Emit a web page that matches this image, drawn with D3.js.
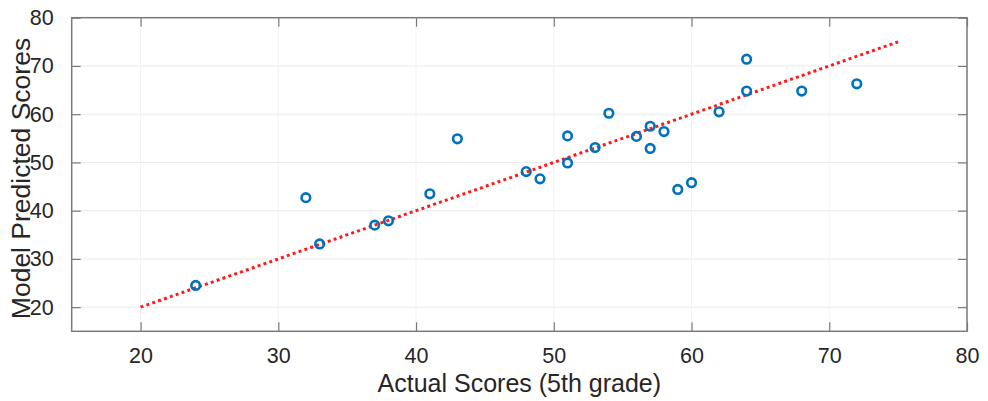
<!DOCTYPE html>
<html>
<head>
<meta charset="utf-8">
<script src="https://cdn.jsdelivr.net/npm/d3@7"></script>
<style>
  body { margin: 0; background: #fff; }
  text { font-family: "Liberation Sans", Arial, Helvetica, sans-serif; fill: #262626; }
</style>
</head>
<body>
<div id="chart"></div>
<script>
// Actual vs. predicted scores
const actualScores = [24, 32, 33, 37, 38, 41, 43, 48, 49, 51, 51, 53, 54, 56, 57, 57, 58, 59, 60, 62, 64, 64, 68, 72];
const predictedScores = [24.5, 42.7, 33.1, 37.0, 37.9, 43.5, 54.9, 48.1, 46.6, 55.5, 49.9, 53.1, 60.2, 55.4, 57.5, 52.9, 56.4, 44.4, 45.8, 60.5, 71.4, 64.8, 64.8, 66.3];

// dotted reference line
const fitX = [20, 75];
const fitY = [20, 75];

const xTicks = [20, 30, 40, 50, 60, 70, 80];
const yTicks = [20, 30, 40, 50, 60, 70, 80];

const width = 988, height = 401;
const margin = {top: 17.7, right: 21, bottom: 69.7, left: 71.7};
const innerW = width - margin.left - margin.right;
const innerH = height - margin.top - margin.bottom;

const svg = d3.select("#chart").append("svg")
    .attr("width", width)
    .attr("height", height);

const g = svg.append("g")
    .attr("transform", "translate(" + margin.left + "," + margin.top + ")");

const x = d3.scaleLinear().domain([15, 80]).range([0, innerW]);
const y = d3.scaleLinear().domain([15, 80]).range([innerH, 0]);

const axisColor = "#7a7a7a";
const tickLen = 9;

// faint grid (horizontal a bit stronger than vertical, as in the source)
g.append("g").selectAll("line")
    .data(yTicks.filter(d => d < 80))
    .enter().append("line")
    .attr("x1", 0).attr("x2", innerW)
    .attr("y1", d => y(d)).attr("y2", d => y(d))
    .attr("stroke", "#e9e9e9").attr("stroke-width", 1);

g.append("g").selectAll("line")
    .data(xTicks.filter(d => d < 80))
    .enter().append("line")
    .attr("y1", 0).attr("y2", innerH)
    .attr("x1", d => x(d)).attr("x2", d => x(d))
    .attr("stroke", "#f3f3f3").attr("stroke-width", 1);

// axes (inward ticks, MATLAB style)
const styleAxis = sel => {
    sel.select(".domain").remove();
    sel.selectAll(".tick line").attr("stroke", axisColor).attr("stroke-width", 1.2);
    sel.selectAll(".tick text")
        .attr("font-size", "21.5px")
        .attr("fill", "#262626")
        .attr("font-family", "Liberation Sans, Arial, sans-serif");
};

g.append("g")
    .attr("transform", "translate(0," + innerH + ")")
    .call(d3.axisBottom(x).tickValues(xTicks).tickSizeInner(-tickLen).tickSizeOuter(0).tickPadding(16))
    .call(styleAxis);

g.append("g")
    .call(d3.axisTop(x).tickValues(xTicks).tickSizeInner(-tickLen).tickSizeOuter(0).tickFormat(""))
    .call(styleAxis);

g.append("g")
    .call(d3.axisLeft(y).tickValues(yTicks).tickSizeInner(-tickLen).tickSizeOuter(0).tickPadding(18))
    .call(styleAxis);

g.append("g")
    .attr("transform", "translate(" + innerW + ",0)")
    .call(d3.axisRight(y).tickValues(yTicks).tickSizeInner(-tickLen).tickSizeOuter(0).tickFormat(""))
    .call(styleAxis);

// box
g.append("rect")
    .attr("x", 0).attr("y", 0)
    .attr("width", innerW).attr("height", innerH)
    .attr("fill", "none")
    .attr("stroke", axisColor)
    .attr("stroke-width", 1.5);

// dotted line
const line = d3.line().x(d => x(d[0])).y(d => y(d[1]));
g.append("path")
    .datum(d3.zip(fitX, fitY))
    .attr("d", line)
    .attr("fill", "none")
    .attr("stroke", "#ff1a1a")
    .attr("stroke-width", 3)
    .attr("stroke-dasharray", "3,3.2");

// points
g.append("g").selectAll("circle")
    .data(d3.zip(actualScores, predictedScores))
    .enter().append("circle")
    .attr("cx", d => x(d[0]))
    .attr("cy", d => y(d[1]))
    .attr("r", 4.3)
    .attr("fill", "none")
    .attr("stroke", "#0072BD")
    .attr("stroke-width", 2.6);

// axis titles
svg.append("text")
    .attr("x", margin.left + innerW / 2)
    .attr("y", 392)
    .attr("text-anchor", "middle")
    .attr("font-size", "25px")
    .text("Actual Scores (5th grade)");

svg.append("text")
    .attr("transform", "translate(30," + (margin.top + innerH / 2 + 4) + ") rotate(-90)")
    .attr("text-anchor", "middle")
    .attr("font-size", "26.5px")
    .text("Model Predicted Scores");
</script>
</body>
</html>
